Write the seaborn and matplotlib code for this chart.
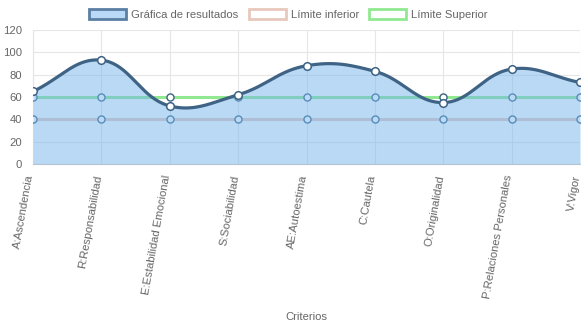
import numpy as np
import pandas as pd
import matplotlib
matplotlib.use("Agg")
import matplotlib.pyplot as plt
from matplotlib.patches import Patch
from matplotlib.transforms import ScaledTranslation
import seaborn as sns

# ---- data ----
criterios = [
    "A:Ascendencia", "R:Responsabilidad", "E:Estabilidad Emocional",
    "S:Sociabilidad", "AE:Autoestima", "C:Cautela", "O:Originalidad",
    "P:Relaciones Personales", "V:Vigor",
]
resultados = [65, 93, 52, 62, 88, 83, 55, 85, 73]
limite_inferior = [40, 40, 40, 40, 40, 40, 40, 40, 40]
limite_superior = [60, 60, 60, 60, 60, 60, 60, 60, 60]
y_ticks = [0, 20, 40, 60, 80, 100, 120]

# ---- style ----
sns.set_theme(style="white")
plt.rcParams["font.family"] = ["Liberation Sans", "DejaVu Sans"]
TXT = "#666666"
GRID = "#e6e6e6"
AXIS = "#c9c9c9"
LINE = "#3e6385"
FILL = "#75b5ed"
LOW = "#e8c8bc"
HIGH = "#90e890"
FS = 8.1

W, H = 583, 328
fig = plt.figure(figsize=(W / 100, H / 100), dpi=100)
ax = fig.add_axes([33 / W, 1 - 164 / H, (580 - 33) / W, (164 - 30) / H])
ax.set_xlim(0, len(criterios) - 1)
ax.set_ylim(0, 120)

x = np.arange(len(criterios))
df = pd.DataFrame({
    "x": np.tile(x, 2),
    "valor": limite_inferior + limite_superior,
    "serie": ["Límite inferior"] * len(x) + ["Límite Superior"] * len(x),
})

# limit lines sit underneath the translucent result area
sns.lineplot(data=df, x="x", y="valor", hue="serie",
             palette={"Límite inferior": LOW, "Límite Superior": HIGH},
             linewidth=2.2, legend=False, ax=ax, zorder=2)
for vals in (limite_inferior, limite_superior):
    ax.scatter(x, vals, s=26, facecolor="white", edgecolor=LINE,
               linewidth=1.0, zorder=3)


# cubic Bezier smoothing (tension 0.4) computed in pixel space
def smooth(xs, ys, t=0.4, n=40):
    pts = ax.transData.transform(np.column_stack([xs, ys]))
    m = len(pts)
    cp_prev, cp_next = [], []
    for i in range(m):
        prv = pts[i - 1] if i > 0 else pts[i]
        nxt = pts[i + 1] if i < m - 1 else pts[i]
        cur = pts[i]
        d01 = np.hypot(*(cur - prv))
        d12 = np.hypot(*(nxt - cur))
        tot = d01 + d12
        s01 = d01 / tot if tot else 0
        s12 = d12 / tot if tot else 0
        cp_prev.append(cur - t * s01 * (nxt - prv))
        cp_next.append(cur + t * s12 * (nxt - prv))
    out = [pts[0]]
    u = np.linspace(0, 1, n)[1:, None]
    for i in range(m - 1):
        p0, p1, p2, p3 = pts[i], cp_next[i], cp_prev[i + 1], pts[i + 1]
        seg = ((1 - u) ** 3) * p0 + 3 * ((1 - u) ** 2) * u * p1 \
            + 3 * (1 - u) * u ** 2 * p2 + u ** 3 * p3
        out.extend(seg)
    out = ax.transData.inverted().transform(np.array(out))
    return out[:, 0], out[:, 1]


cx, cy = smooth(x, resultados)
ax.fill_between(cx, 0, cy, color=FILL, alpha=0.5, linewidth=0, zorder=4)
curve = pd.DataFrame({"x": cx, "y": cy})
sns.lineplot(data=curve, x="x", y="y", sort=False, color=LINE,
             linewidth=2.3, ax=ax, zorder=5)
ax.scatter(x, resultados, s=30, facecolor="white", edgecolor=LINE,
           linewidth=1.1, zorder=6)

# ---- axes ----
ax.tick_params(axis="both", length=6, width=0.8, color=GRID, pad=2)
ax.set_xticks(x)
ax.set_xticklabels(criterios, rotation=80, ha="right", va="center",
                   rotation_mode="anchor", fontsize=FS, color=TXT)
shift = ScaledTranslation(-2.5 / 100, 0, fig.dpi_scale_trans)
for lab in ax.get_xticklabels():
    lab.set_transform(lab.get_transform() + shift)
ax.set_yticks(y_ticks)
ax.set_yticklabels([str(v) for v in y_ticks], fontsize=FS, color=TXT)
ax.grid(True, color=GRID, linewidth=0.8)
ax.set_axisbelow(True)
for side, sp in ax.spines.items():
    sp.set_color(AXIS if side in ("left", "bottom") else GRID)
    sp.set_linewidth(0.8)
    sp.set_zorder(0.5)
ax.spines["top"].set_visible(False)
ax.spines["right"].set_visible(False)

ax.set_xlabel("Criterios", fontsize=FS, color=TXT)
ax.set_ylabel("")
ax.xaxis.set_label_coords(0.5, (164 - 317) / 134)
ax.xaxis.label.set_va("center")

handles = [
    Patch(facecolor="#b9d9f6", edgecolor="#5a7fa3", linewidth=2.0,
          label="Gráfica de resultados"),
    Patch(facecolor="white", edgecolor=LOW, linewidth=2.0,
          label="Límite inferior"),
    Patch(facecolor="white", edgecolor=HIGH, linewidth=2.0,
          label="Límite Superior"),
]
leg = fig.legend(handles=handles, loc="upper center", ncol=3,
                 bbox_to_anchor=(0.495, 1 - 1 / H), frameon=False,
                 fontsize=FS, handlelength=3.3, handleheight=1.05,
                 handletextpad=0.45, columnspacing=0.9, borderpad=0.2)
for t in leg.get_texts():
    t.set_color(TXT)

fig.savefig("out.png", dpi=100)
